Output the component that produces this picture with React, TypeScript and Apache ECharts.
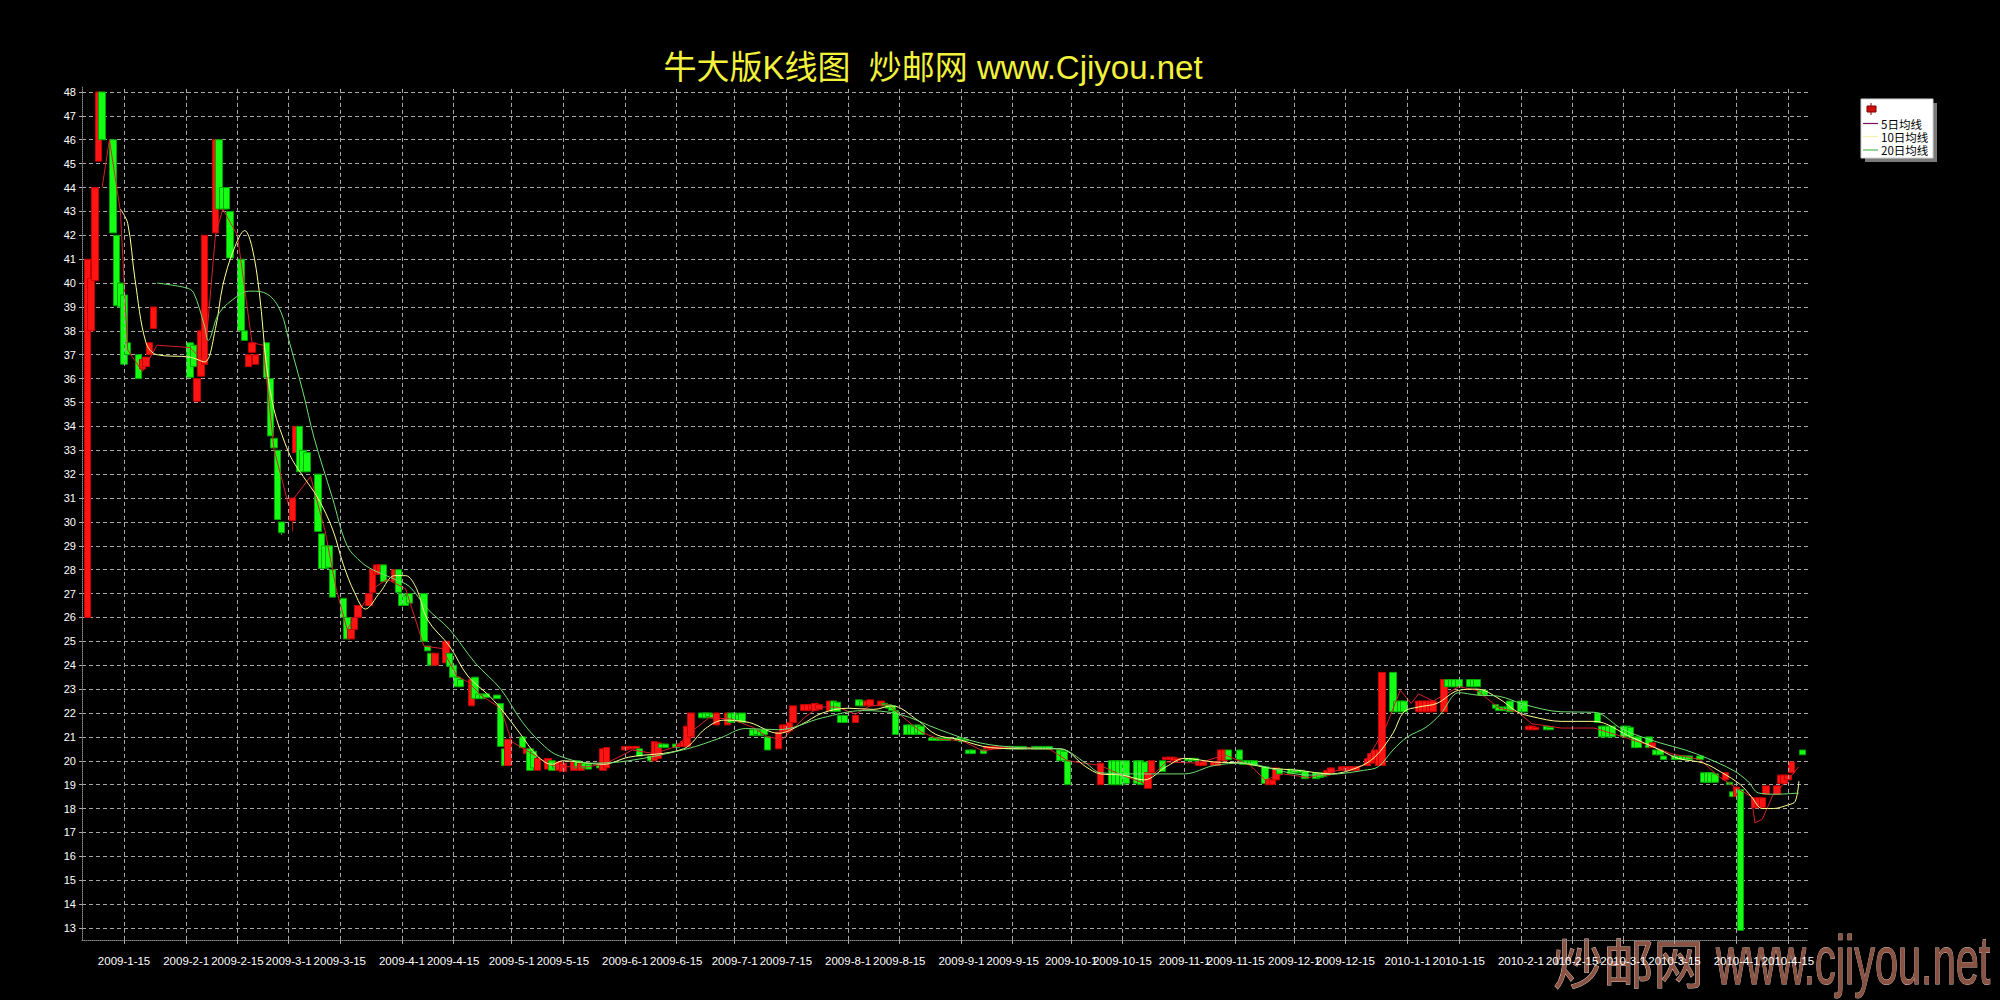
import React, { useEffect, useRef } from 'react';
import * as echarts from 'echarts';

// Daily candles: [date, open, close, low?, high?]
type Candle = [string, number, number, number?, number?];

const kLine2009Q1: Candle[] = [
  ['2009-01-05', 26, 41], ['2009-01-06', 38, 40.2], ['2009-01-07', 40.1, 44], ['2009-01-08', 45.1, 48],
  ['2009-01-09', 48, 46], ['2009-01-12', 46, 42.1], ['2009-01-13', 42, 39.05], ['2009-01-14', 40, 39],
  ['2009-01-15', 39.5, 36.6], ['2009-01-16', 37.5, 37], ['2009-01-19', 37, 36], ['2009-01-20', 36.4, 36.8],
  ['2009-01-21', 36.5, 36.9], ['2009-01-22', 37, 37.5], ['2009-01-23', 38.1, 39],
  ['2009-02-02', 37.5, 36.05], ['2009-02-03', 37.4, 36.5], ['2009-02-04', 35.05, 36], ['2009-02-05', 36.1, 38],
  ['2009-02-06', 36.6, 42], ['2009-02-09', 42.1, 46], ['2009-02-10', 46, 43.1], ['2009-02-11', 44, 43.1],
  ['2009-02-12', 44, 43.1], ['2009-02-13', 43, 41.05], ['2009-02-16', 41, 38], ['2009-02-17', 38, 37.6],
  ['2009-02-18', 36.5, 37], ['2009-02-19', 37.1, 37.5], ['2009-02-20', 36.6, 37],
  ['2009-02-23', 37.5, 36.05], ['2009-02-24', 36, 33.6], ['2009-02-25', 33.5, 33.1], ['2009-02-26', 33, 30.1],
  ['2009-02-27', 30, 29.55, 29.45, 30],
  ['2009-03-02', 30.05, 31, 29.6, 31], ['2009-03-03', 32.9, 34], ['2009-03-04', 34, 32.1], ['2009-03-05', 33, 32.1],
  ['2009-03-06', 32.9, 32.1], ['2009-03-09', 32, 29.6], ['2009-03-10', 29.5, 28.05], ['2009-03-11', 29, 28.05],
  ['2009-03-12', 29, 28.1], ['2009-03-13', 28, 26.85], ['2009-03-16', 26.8, 26], ['2009-03-17', 26, 25.1],
  ['2009-03-18', 25.1, 25.5], ['2009-03-19', 25.5, 26], ['2009-03-20', 26, 26.5], ['2009-03-23', 26.5, 27],
  ['2009-03-24', 27.05, 28], ['2009-03-25', 27.8, 28.2], ['2009-03-26', 27.8, 28.2], ['2009-03-27', 28.2, 27.5],
  ['2009-03-30', 27.5, 28], ['2009-03-31', 28, 27.05],
];

const kLine2009Q2: Candle[] = [
  ['2009-04-01', 27, 26.5], ['2009-04-02', 26.9, 26.5], ['2009-04-03', 27, 26.6], ['2009-04-07', 27, 25],
  ['2009-04-08', 24.8, 24.6], ['2009-04-09', 24.5, 24], ['2009-04-10', 24, 24.5], ['2009-04-13', 24.1, 25],
  ['2009-04-14', 24.5, 23.95], ['2009-04-15', 24, 23.5], ['2009-04-16', 23.5, 23.1], ['2009-04-17', 23.4, 23.1],
  ['2009-04-20', 22.3, 23.4], ['2009-04-21', 23.5, 22.6], ['2009-04-22', 22.8, 22.6], ['2009-04-23', 22.75, 22.6],
  ['2009-04-24', 22.8, 22.65], ['2009-04-27', 22.75, 22.6], ['2009-04-28', 22.4, 20.6], ['2009-04-29', 20.5, 19.8],
  ['2009-04-30', 19.8, 20.9], ['2009-05-04', 21, 20.55], ['2009-05-05', 20.3, 20.5], ['2009-05-06', 20.5, 19.6],
  ['2009-05-07', 20.4, 19.7], ['2009-05-08', 19.6, 20.1], ['2009-05-11', 19.65, 20.1], ['2009-05-12', 20, 19.6],
  ['2009-05-13', 19.9, 19.7], ['2009-05-14', 19.6, 19.95], ['2009-05-15', 19.55, 19.9], ['2009-05-18', 19.6, 19.95],
  ['2009-05-19', 20, 19.7], ['2009-05-20', 19.6, 19.9], ['2009-05-21', 19.9, 19.7], ['2009-05-22', 19.85, 19.65],
  ['2009-05-25', 19.8, 19.7], ['2009-05-26', 19.6, 20.5], ['2009-05-27', 19.7, 20.55],
  ['2009-06-01', 20.45, 20.6], ['2009-06-02', 20.5, 20.6], ['2009-06-03', 20.5, 20.6], ['2009-06-04', 20.5, 20.6],
  ['2009-06-05', 20.5, 20.2], ['2009-06-08', 20.2, 20], ['2009-06-09', 20, 20.8], ['2009-06-10', 20.1, 20.75],
  ['2009-06-11', 20.7, 20.55], ['2009-06-12', 20.7, 20.55], ['2009-06-15', 20.7, 20.55], ['2009-06-16', 20.6, 20.7],
  ['2009-06-17', 20.6, 20.8], ['2009-06-18', 20.6, 21.45], ['2009-06-19', 21, 22], ['2009-06-22', 22, 21.8],
  ['2009-06-23', 22, 21.8], ['2009-06-24', 22, 21.85], ['2009-06-25', 21.95, 21.8], ['2009-06-26', 21.5, 22],
  ['2009-06-29', 21.5, 22], ['2009-06-30', 22, 21.6],
];

const kLine2009Q3: Candle[] = [
  ['2009-07-01', 22, 21.65], ['2009-07-02', 21.95, 21.7], ['2009-07-03', 22, 21.6], ['2009-07-06', 21.3, 21.05],
  ['2009-07-07', 21.3, 21.1], ['2009-07-08', 21.25, 21.05], ['2009-07-09', 21.3, 21.1], ['2009-07-10', 21, 20.45],
  ['2009-07-13', 20.5, 21.2], ['2009-07-14', 21.2, 21.5], ['2009-07-15', 21.2, 21.5], ['2009-07-16', 21.25, 21.6],
  ['2009-07-17', 21.6, 22.3], ['2009-07-20', 22.1, 22.35], ['2009-07-21', 22.1, 22.35], ['2009-07-22', 22.15, 22.35],
  ['2009-07-23', 22.1, 22.4], ['2009-07-24', 22.15, 22.35], ['2009-07-27', 22.1, 22.5], ['2009-07-28', 22.5, 22.07],
  ['2009-07-29', 22.45, 22.07], ['2009-07-30', 21.9, 21.6], ['2009-07-31', 21.9, 21.6],
  ['2009-08-03', 21.6, 21.9], ['2009-08-04', 22.55, 22.3], ['2009-08-05', 22.5, 22.3], ['2009-08-06', 22.3, 22.5],
  ['2009-08-07', 22.3, 22.55], ['2009-08-10', 22.3, 22.5], ['2009-08-11', 22.4, 22.3], ['2009-08-12', 22.35, 22.2],
  ['2009-08-13', 22.3, 22.1], ['2009-08-14', 22.1, 21.1], ['2009-08-17', 21.5, 21.1], ['2009-08-18', 21.5, 21.1],
  ['2009-08-19', 21.45, 21.1], ['2009-08-20', 21.5, 21.15], ['2009-08-21', 21.45, 21.1], ['2009-08-24', 20.95, 20.85],
  ['2009-08-25', 20.95, 20.85], ['2009-08-26', 20.95, 20.85], ['2009-08-27', 20.95, 20.85], ['2009-08-28', 20.95, 20.85],
  ['2009-08-31', 20.95, 20.85],
  ['2009-09-01', 20.9, 20.8], ['2009-09-02', 20.9, 20.85], ['2009-09-03', 20.45, 20.3], ['2009-09-04', 20.45, 20.3],
  ['2009-09-07', 20.45, 20.3], ['2009-09-08', 20.5, 20.6], ['2009-09-09', 20.5, 20.6], ['2009-09-10', 20.5, 20.6],
  ['2009-09-11', 20.5, 20.6], ['2009-09-14', 20.6, 20.5], ['2009-09-15', 20.6, 20.5], ['2009-09-16', 20.6, 20.5],
  ['2009-09-17', 20.6, 20.5], ['2009-09-18', 20.6, 20.5], ['2009-09-21', 20.6, 20.5], ['2009-09-22', 20.6, 20.5],
  ['2009-09-23', 20.6, 20.5], ['2009-09-24', 20.6, 20.5], ['2009-09-25', 20.6, 20.5], ['2009-09-28', 20.45, 20],
  ['2009-09-29', 20.4, 20], ['2009-09-30', 20, 19],
];

const kLine2009Q4: Candle[] = [
  ['2009-10-09', 19, 19.9], ['2009-10-12', 20, 19], ['2009-10-13', 20, 19], ['2009-10-14', 20, 19],
  ['2009-10-15', 20, 19], ['2009-10-16', 20, 19.05], ['2009-10-19', 20, 19.05], ['2009-10-20', 20, 19],
  ['2009-10-21', 19.95, 19.05], ['2009-10-22', 18.85, 19.5], ['2009-10-23', 19.5, 20], ['2009-10-26', 20, 19.55],
  ['2009-10-27', 20.05, 20.15], ['2009-10-28', 20.05, 20.15], ['2009-10-29', 20, 20.15], ['2009-10-30', 20, 20.1],
  ['2009-11-02', 20.1, 20], ['2009-11-03', 20.1, 20], ['2009-11-04', 20.1, 20], ['2009-11-05', 19.8, 19.95],
  ['2009-11-06', 19.8, 19.95], ['2009-11-09', 19.8, 19.95], ['2009-11-10', 19.8, 19.95], ['2009-11-11', 20, 20.45],
  ['2009-11-12', 20, 20.45], ['2009-11-13', 20.45, 20.05], ['2009-11-16', 20.45, 20.05], ['2009-11-17', 20, 19.85],
  ['2009-11-18', 20, 19.85], ['2009-11-19', 20, 19.85], ['2009-11-20', 20, 19.8], ['2009-11-23', 19.75, 19.05],
  ['2009-11-24', 19, 19.2], ['2009-11-25', 19, 19.2], ['2009-11-26', 19.2, 19.7], ['2009-11-27', 19.65, 19.45],
  ['2009-11-30', 19.65, 19.45],
  ['2009-12-01', 19.6, 19.5], ['2009-12-02', 19.6, 19.5], ['2009-12-03', 19.6, 19.5], ['2009-12-04', 19.55, 19.25],
  ['2009-12-07', 19.5, 19.25], ['2009-12-08', 19.45, 19.3], ['2009-12-09', 19.5, 19.35], ['2009-12-10', 19.4, 19.6],
  ['2009-12-11', 19.5, 19.7], ['2009-12-14', 19.6, 19.75], ['2009-12-15', 19.6, 19.75], ['2009-12-16', 19.6, 19.75],
  ['2009-12-17', 19.6, 19.75], ['2009-12-18', 19.6, 19.75], ['2009-12-21', 19.8, 20.1], ['2009-12-22', 19.9, 20.3],
  ['2009-12-23', 20, 20.45], ['2009-12-24', 19.8, 20.45], ['2009-12-25', 19.8, 23.7], ['2009-12-28', 23.7, 22.05],
  ['2009-12-29', 22.5, 22.05], ['2009-12-30', 22.5, 22.05], ['2009-12-31', 22.5, 22.05],
];

const kLine2010: Candle[] = [
  ['2010-01-04', 22.05, 22.5], ['2010-01-05', 22.05, 22.5], ['2010-01-06', 22.05, 22.5], ['2010-01-07', 22.05, 22.5],
  ['2010-01-08', 22.05, 22.5], ['2010-01-11', 22.05, 23.4], ['2010-01-12', 23.4, 23.1], ['2010-01-13', 23.4, 23.1],
  ['2010-01-14', 23.4, 23.1], ['2010-01-15', 23.4, 23.1], ['2010-01-18', 23.4, 23.1], ['2010-01-19', 23.4, 23.1],
  ['2010-01-20', 23.4, 23.1], ['2010-01-21', 22.95, 22.75], ['2010-01-22', 22.95, 22.75], ['2010-01-25', 22.35, 22.2],
  ['2010-01-26', 22.25, 22.1], ['2010-01-27', 22.25, 22.1], ['2010-01-28', 22.25, 22.1], ['2010-01-29', 22.5, 22.05],
  ['2010-02-01', 22.5, 22.05], ['2010-02-02', 22.5, 22.05], ['2010-02-03', 21.3, 21.45], ['2010-02-04', 21.3, 21.45],
  ['2010-02-05', 21.3, 21.4], ['2010-02-08', 21.45, 21.3], ['2010-02-09', 21.4, 21.3],
  ['2010-02-22', 22, 21.6], ['2010-02-23', 21.45, 21], ['2010-02-24', 21.45, 21], ['2010-02-25', 21.45, 21],
  ['2010-02-26', 21.45, 21], ['2010-03-01', 21.45, 21], ['2010-03-02', 21.45, 21], ['2010-03-03', 21.4, 21],
  ['2010-03-04', 21, 20.55], ['2010-03-05', 21, 20.55], ['2010-03-08', 21, 20.55], ['2010-03-09', 20.55, 20.75],
  ['2010-03-10', 20.45, 20.25], ['2010-03-11', 20.45, 20.25], ['2010-03-12', 20.2, 20.05], ['2010-03-15', 20.2, 20.05],
  ['2010-03-16', 20.2, 20.05], ['2010-03-17', 20.2, 20.05], ['2010-03-18', 20.2, 20.05], ['2010-03-19', 20.2, 20.05],
  ['2010-03-22', 20.2, 20.05], ['2010-03-23', 19.5, 19.1], ['2010-03-24', 19.5, 19.1], ['2010-03-25', 19.5, 19.1],
  ['2010-03-26', 19.45, 19.1], ['2010-03-29', 19.2, 19.5], ['2010-03-30', 19.1, 19], ['2010-03-31', 18.7, 18.5],
  ['2010-04-01', 18.5, 18.9], ['2010-04-02', 18.8, 12.9], ['2010-04-06', 18.03, 18.45], ['2010-04-07', 18.1, 18.45],
  ['2010-04-08', 18.05, 18.45], ['2010-04-09', 18.6, 18.95], ['2010-04-12', 18.6, 18.95], ['2010-04-13', 19.05, 19.4],
  ['2010-04-14', 19.05, 19.4], ['2010-04-15', 19.2, 19.4], ['2010-04-16', 19.5, 19.95], ['2010-04-19', 20.45, 20.25],
];

// Moving-average curves: [date, value]
const ma5: [string, number][] = [
  ['2009-01-09', 44], ['2009-01-11', 46], ['2009-01-14', 43], ['2009-01-16', 37.2], ['2009-01-20', 36.3],
  ['2009-01-24', 37.4], ['2009-02-02', 37.3], ['2009-02-06', 36.7], ['2009-02-09', 42], ['2009-02-11', 43.1],
  ['2009-02-15', 42], ['2009-02-19', 37.5], ['2009-02-22', 37.4], ['2009-02-25', 33.05], ['2009-03-01', 30.7],
  ['2009-03-05', 31.5], ['2009-03-07', 31.9], ['2009-03-11', 29.6], ['2009-03-14', 27.2], ['2009-03-17', 25.5],
  ['2009-03-20', 26.2], ['2009-03-24', 27.2], ['2009-03-28', 27.6], ['2009-04-02', 27.2], ['2009-04-07', 24.8],
  ['2009-04-12', 24.7], ['2009-04-16', 23.55], ['2009-04-19', 23.3], ['2009-04-23', 22.7], ['2009-04-28', 22.2],
  ['2009-05-01', 20.8], ['2009-05-06', 20.35], ['2009-05-12', 19.8], ['2009-05-15', 19.75], ['2009-05-22', 19.75],
  ['2009-05-27', 19.9], ['2009-06-03', 20.45], ['2009-06-09', 20.3], ['2009-06-15', 20.6], ['2009-06-19', 21.2],
  ['2009-06-24', 21.8], ['2009-06-30', 21.75], ['2009-07-06', 21.4], ['2009-07-10', 21], ['2009-07-14', 20.9],
  ['2009-07-20', 21.8], ['2009-07-24', 22.25], ['2009-07-29', 22.25], ['2009-08-03', 21.95], ['2009-08-07', 22.3],
  ['2009-08-12', 22.35], ['2009-08-17', 21.7], ['2009-08-21', 21.2], ['2009-08-26', 20.9], ['2009-09-01', 20.85],
  ['2009-09-07', 20.4], ['2009-09-11', 20.55], ['2009-09-18', 20.55], ['2009-09-25', 20.5], ['2009-09-30', 20],
  ['2009-10-09', 19.8], ['2009-10-14', 19.45], ['2009-10-21', 19.05], ['2009-10-27', 19.95], ['2009-11-05', 19.9],
  ['2009-11-12', 20.25], ['2009-11-19', 19.8], ['2009-11-23', 19.2], ['2009-11-28', 19.45], ['2009-12-05', 19.3],
  ['2009-12-13', 19.6], ['2009-12-20', 19.8], ['2009-12-26', 21.4], ['2009-12-30', 22.95], ['2010-01-02', 22.4],
  ['2010-01-04', 22.8], ['2010-01-08', 22.5], ['2010-01-15', 23.1], ['2010-01-20', 22.95], ['2010-01-26', 22.2],
  ['2010-01-31', 22.05], ['2010-02-04', 21.55], ['2010-02-12', 21.37], ['2010-02-21', 21.37], ['2010-03-01', 21],
  ['2010-03-09', 20.6], ['2010-03-14', 20.3], ['2010-03-22', 20.05], ['2010-03-27', 19.35], ['2010-04-01', 18.85],
  ['2010-04-05', 18.5], ['2010-04-06', 17.4], ['2010-04-08', 17.55], ['2010-04-11', 18.6], ['2010-04-15', 19.2],
  ['2010-04-18', 19.75],
];

const ma10: [string, number][] = [
  ['2009-01-14', 43.1], ['2009-01-16', 42.5], ['2009-01-18', 40.15], ['2009-01-21', 37.5], ['2009-01-24', 37],
  ['2009-02-02', 36.9], ['2009-02-06', 36.7], ['2009-02-09', 38.1], ['2009-02-11', 39.9], ['2009-02-14', 41.4],
  ['2009-02-17', 42.2], ['2009-02-19', 41.5], ['2009-02-21', 39.6], ['2009-02-23', 36.5], ['2009-02-25', 34.7],
  ['2009-02-28', 33.3], ['2009-03-02', 32.6], ['2009-03-05', 31.9], ['2009-03-09', 31], ['2009-03-13', 29.7],
  ['2009-03-16', 28.2], ['2009-03-19', 27.05], ['2009-03-22', 26.35], ['2009-03-26', 27.05], ['2009-03-30', 27.75],
  ['2009-04-02', 27.75], ['2009-04-05', 27.2], ['2009-04-08', 25.9], ['2009-04-14', 24.8], ['2009-04-19', 23.55],
  ['2009-04-25', 22.7], ['2009-04-29', 22], ['2009-05-03', 21.2], ['2009-05-08', 20.2], ['2009-05-12', 19.85],
  ['2009-05-15', 20], ['2009-05-26', 19.85], ['2009-06-02', 20.15], ['2009-06-17', 20.5], ['2009-06-23', 21.35],
  ['2009-06-28', 21.7], ['2009-07-05', 21.6], ['2009-07-13', 21.15], ['2009-07-19', 21.5], ['2009-07-25', 22],
  ['2009-08-01', 22.2], ['2009-08-08', 22.15], ['2009-08-13', 22.3], ['2009-08-20', 21.7], ['2009-08-25', 21.1],
  ['2009-08-31', 20.9], ['2009-09-09', 20.55], ['2009-09-19', 20.5], ['2009-09-28', 20.5], ['2009-10-05', 19.75],
  ['2009-10-09', 19.45], ['2009-10-15', 19.4], ['2009-10-21', 19.2], ['2009-10-27', 19.75], ['2009-11-01', 20.1],
  ['2009-11-09', 19.95], ['2009-11-17', 19.9], ['2009-11-24', 19.7], ['2009-12-02', 19.6], ['2009-12-11', 19.45],
  ['2009-12-18', 19.7], ['2009-12-23', 20.15], ['2009-12-28', 21.15], ['2009-12-31', 22.05], ['2010-01-04', 22.25],
  ['2010-01-09', 22.4], ['2010-01-15', 22.95], ['2010-01-20', 23], ['2010-01-26', 22.6], ['2010-01-31', 22.05],
  ['2010-02-04', 21.85], ['2010-02-12', 21.65], ['2010-02-21', 21.65], ['2010-03-03', 21], ['2010-03-11', 20.45],
  ['2010-03-16', 20.1], ['2010-03-23', 19.9], ['2010-03-28', 19.5], ['2010-04-02', 19], ['2010-04-05', 18.5],
  ['2010-04-08', 18], ['2010-04-11', 18], ['2010-04-15', 18.15], ['2010-04-17', 18.3], ['2010-04-18', 19.15],
];

const ma20: [string, number][] = [
  ['2009-01-24', 40], ['2009-02-01', 39.8], ['2009-02-03', 39.6], ['2009-02-06', 38.2], ['2009-02-07', 37.6],
  ['2009-02-10', 38.75], ['2009-02-15', 39.45], ['2009-02-18', 39.66], ['2009-02-20', 39.66], ['2009-02-24', 39.45],
  ['2009-02-27', 38.75], ['2009-03-01', 37.65], ['2009-03-05', 35.4], ['2009-03-08', 33.5], ['2009-03-13', 31],
  ['2009-03-17', 29], ['2009-03-21', 28.3], ['2009-03-24', 28], ['2009-03-30', 27.6], ['2009-04-03', 27.3],
  ['2009-04-08', 26.35], ['2009-04-14', 25.5], ['2009-04-21', 24.1], ['2009-04-28', 23], ['2009-05-04', 21.6],
  ['2009-05-10', 20.6], ['2009-05-14', 20.2], ['2009-05-23', 19.9], ['2009-06-02', 20], ['2009-06-18', 20.5],
  ['2009-06-27', 20.95], ['2009-07-04', 21.35], ['2009-07-13', 21.3], ['2009-07-25', 21.8], ['2009-08-05', 22.1],
  ['2009-08-15', 21.95], ['2009-08-26', 21.3], ['2009-09-06', 20.75], ['2009-09-17', 20.55], ['2009-09-28', 20.5],
  ['2009-10-05', 19.9], ['2009-10-09', 19.5], ['2009-10-18', 19.45], ['2009-11-01', 19.45], ['2009-11-09', 19.8],
  ['2009-11-17', 19.9], ['2009-11-28', 19.55], ['2009-12-05', 19.4], ['2009-12-13', 19.45], ['2009-12-20', 19.6],
  ['2009-12-24', 19.75], ['2009-12-28', 20.45], ['2010-01-01', 21], ['2010-01-06', 21.4], ['2010-01-10', 21.95],
  ['2010-01-15', 22.85], ['2010-01-20', 22.75], ['2010-01-26', 22.7], ['2010-02-02', 22.35], ['2010-02-12', 22.05],
  ['2010-02-21', 22.03], ['2010-03-01', 21.3], ['2010-03-11', 20.75], ['2010-03-18', 20.45], ['2010-03-24', 20.1],
  ['2010-03-31', 19.6], ['2010-04-04', 19.15], ['2010-04-07', 18.65], ['2010-04-12', 18.6], ['2010-04-18', 18.65],
];

const dateTicks = [
  '2009-01-15', '2009-02-01', '2009-02-15', '2009-03-01', '2009-03-15', '2009-04-01', '2009-04-15',
  '2009-05-01', '2009-05-15', '2009-06-01', '2009-06-15', '2009-07-01', '2009-07-15', '2009-08-01',
  '2009-08-15', '2009-09-01', '2009-09-15', '2009-10-01', '2009-10-15', '2009-11-01', '2009-11-15',
  '2009-12-01', '2009-12-15', '2010-01-01', '2010-01-15', '2010-02-01', '2010-02-15', '2010-03-01',
  '2010-03-15', '2010-04-01', '2010-04-15',
];

const priceTicks = [
  13, 14, 15, 16, 17, 18, 19, 20, 21, 22, 23, 24, 25, 26, 27, 28, 29, 30,
  31, 32, 33, 34, 35, 36, 37, 38, 39, 40, 41, 42, 43, 44, 45, 46, 47, 48,
];

const TITLE = '牛大版K线图  炒邮网 www.Cjiyou.net';
const LEGEND_NAMES = ['5日均线', '10日均线', '20日均线'];
const MA_COLORS = ['#d8202c', '#ffff90', '#70e070'];
const LEGEND_LINE_COLORS = ['#7a1060', '#f4f0b0', '#58b858'];

const HALF_DAY = 12 * 3600 * 1000;
const GRID_LINE = { color: '#a8a8a8', type: [4, 3], width: 1 };

function ts(s: string): number {
  const [y, m, d] = s.split('-').map(Number);
  return new Date(y, m - 1, d).getTime();
}

function fmtDate(v: number): string {
  const d = new Date(v);
  return `${d.getFullYear()}-${d.getMonth() + 1}-${d.getDate()}`;
}

const FONT = '"Liberation Sans", Arial, "Noto Sans CJK SC", sans-serif';

export default function App() {
  const ref = useRef<HTMLDivElement>(null);

  useEffect(() => {
    if (!ref.current) return;
    const chart = echarts.init(ref.current, undefined, { renderer: 'svg' });

    const candles = [...kLine2009Q1, ...kLine2009Q2, ...kLine2009Q3, ...kLine2009Q4, ...kLine2010].map(
      ([d, o, c, l, h]) => [ts(d), o, c, l ?? Math.min(o, c), h ?? Math.max(o, c)]
    );
    const tickTimes = dateTicks.map(ts);
    const maSets = [ma5, ma10, ma20];

    const legendRows = LEGEND_NAMES.map((name, i) => {
      const y = [123.5, 136.5, 150][i];
      return [
        {
          type: 'line',
          shape: { x1: 1863, y1: y, x2: 1878, y2: y },
          style: { stroke: LEGEND_LINE_COLORS[i], lineWidth: 1.2 },
          z: 102,
        },
        {
          type: 'text',
          x: 1881,
          y,
          style: {
            text: name,
            fill: '#000',
            fontSize: 11.5,
            fontFamily: '"Noto Sans CJK SC", sans-serif',
            verticalAlign: 'middle',
            align: 'left',
          },
          z: 102,
        },
      ];
    }).flat();

    chart.setOption({
      animation: false,
      backgroundColor: '#000',
      grid: { left: 82, right: 192, top: 87.2, bottom: 60.1 },
      xAxis: {
        type: 'value',
        min: ts('2009-01-03') + HALF_DAY,
        max: ts('2010-04-20') + HALF_DAY,
        axisLine: { show: true, lineStyle: { color: '#888', type: 'dotted' } },
        axisTick: { show: true, customValues: tickTimes, length: 4, lineStyle: { color: '#aaa' } },
        axisLabel: {
          customValues: tickTimes,
          formatter: (v: number) => fmtDate(v),
          color: '#fff',
          fontSize: 11.5,
          fontFamily: FONT,
          margin: 15,
          hideOverlap: false,
        },
        splitLine: { show: false },
      },
      yAxis: {
        type: 'value',
        min: 12.5,
        max: 48.2,
        axisLine: { show: true, lineStyle: { color: '#888', type: 'dotted' } },
        axisTick: { show: true, customValues: priceTicks, length: 3, lineStyle: { color: '#aaa' } },
        axisLabel: {
          customValues: priceTicks,
          color: '#fff',
          fontSize: 11,
          fontFamily: FONT,
          margin: 6,
        },
        splitLine: { show: true, lineStyle: GRID_LINE },
      },
      series: [
        // vertical date grid lines, kept beneath the candles
        {
          type: 'line',
          data: [],
          silent: true,
          z: 1,
          markLine: {
            silent: true,
            symbol: ['none', 'none'],
            label: { show: false },
            lineStyle: GRID_LINE,
            emphasis: { disabled: true },
            data: tickTimes.map((t) => ({ xAxis: t })),
          },
        },
        {
          type: 'candlestick',
          name: 'K线',
          data: candles,
          encode: { x: 0, y: [1, 2, 3, 4] },
          barWidth: 7,
          itemStyle: {
            color: '#ff1414',
            color0: '#14ff14',
            borderColor: '#c80000',
            borderColor0: '#00a800',
            borderWidth: 1,
          },
          z: 2,
        },
        ...maSets.map((set, i) => ({
          type: 'line',
          name: LEGEND_NAMES[i],
          data: set.map(([d, v]) => [ts(d), v]),
          showSymbol: false,
          smooth: i === 0 ? false : 0.35,
          lineStyle: { color: MA_COLORS[i], width: 1 },
          z: 3,
        })),
      ],
      graphic: [
        {
          type: 'text',
          x: 933,
          y: 67,
          style: {
            text: TITLE,
            fill: '#f2f23c',
            fontSize: 33,
            fontFamily: '"Liberation Sans", "Noto Sans CJK SC", sans-serif',
            align: 'center',
            verticalAlign: 'middle',
          },
        },
        // legend box
        { type: 'rect', shape: { x: 1865, y: 103, width: 72, height: 59 }, style: { fill: '#7a7a7a' }, z: 100 },
        {
          type: 'rect',
          shape: { x: 1861, y: 99, width: 72, height: 59 },
          style: { fill: '#fff', stroke: '#d0d0d0', lineWidth: 1 },
          z: 101,
        },
        {
          type: 'line',
          shape: { x1: 1871, y1: 103, x2: 1871, y2: 115 },
          style: { stroke: '#900000', lineWidth: 1 },
          z: 102,
        },
        {
          type: 'rect',
          shape: { x: 1867, y: 106, width: 9, height: 6 },
          style: { fill: '#d01010', stroke: '#800000', lineWidth: 1 },
          z: 103,
        },
        ...legendRows,
        // watermark
        {
          type: 'text',
          x: 1553,
          y: 988,
          scaleX: 0.93,
          style: {
            text: '炒邮网',
            fill: '#8a5242',
            stroke: '#d8c0b4',
            lineWidth: 1,
            fontSize: 54,
            fontFamily: '"Noto Sans CJK SC", sans-serif',
            align: 'left',
            verticalAlign: 'bottom',
          },
          z: -1,
        },
        {
          type: 'text',
          x: 1716,
          y: 994,
          scaleX: 0.61,
          style: {
            text: 'www.cjiyou.net',
            fill: '#8a5242',
            stroke: '#d8c0b4',
            lineWidth: 1,
            fontSize: 68,
            fontFamily: '"Liberation Sans", Arial, sans-serif',
            align: 'left',
            verticalAlign: 'bottom',
          },
          z: -1,
        },
      ],
    });

    return () => chart.dispose();
  }, []);

  return (
    <div
      ref={ref}
      style={{ position: 'absolute', left: 0, top: 0, width: 2000, height: 1000, background: '#000' }}
    />
  );
}
